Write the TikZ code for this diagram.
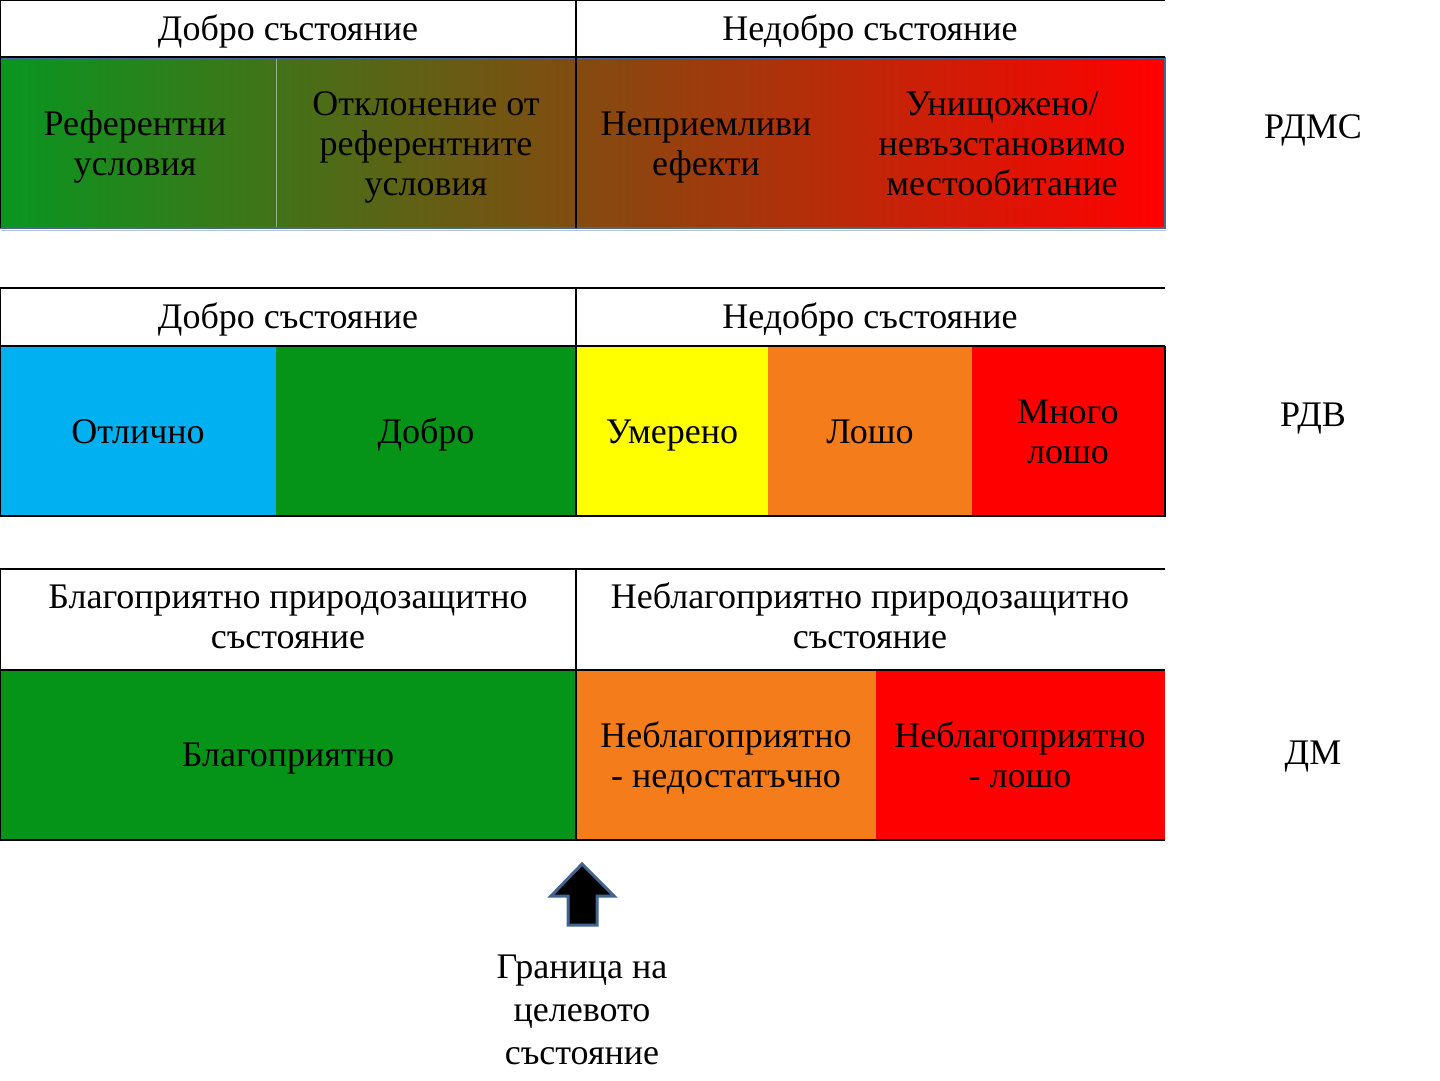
\documentclass[tikz,border=0pt]{standalone}
\usepackage{fontspec}
\setmainfont{Liberation Serif}
\definecolor{cblue}{HTML}{00B0F0}
\definecolor{cgreen}{HTML}{069418}
\definecolor{cyellow}{HTML}{FFFF00}
\definecolor{corange}{HTML}{F57C1A}
\definecolor{cred}{HTML}{FF0000}
\definecolor{gleft}{HTML}{089620}
\definecolor{barborder}{HTML}{46688F}
\definecolor{arrowborder}{HTML}{42648F}
\newcommand\ls{\rule[-0.22em]{0pt}{0.94em}}
\begin{document}
\begin{tikzpicture}[x=1pt,y=-1pt,
  txt/.style={align=center, inner sep=0pt, yshift=-2.5pt, font=\fontsize{36}{40}\selectfont},
  grid/.style={black, line width=1.5pt}]
\useasboundingbox (0,0) rectangle (1440,1080);
% ---------- table 1 ----------
\shade[left color=gleft, right color=cred] (0,58) rectangle (1165,228);
\draw[black!6, opacity=0.5, line width=0.6pt] (276,58) -- (276,228);
\draw[barborder, line width=2.5pt] (0,58) rectangle (1165,228);
\draw[barborder!40, line width=1.5pt] (1,230.5) -- (1166,230.5);
\draw[grid] (0,0) -- (1165,0);
\draw[grid] (0,0) -- (0,228);
\draw[grid] (576,0) -- (576,228);
\draw[grid] (0,57) -- (1165,57);
\node[txt] (h1a) at (288,29) {\ls Добро състояние};
\node[txt] (h1b) at (870,29) {\ls Недобро състояние};
\node[txt] (c1a) at (135,144) {\ls Референтни\\\ls условия};
\node[txt] (c1b) at (426,144) {\ls Отклонение от\\\ls референтните\\\ls условия};
\node[txt] (c1c) at (706,144) {\ls Неприемливи\\\ls ефекти};
\node[txt] (c1d) at (1002,144) {\ls Унищожено/\\\ls невъзстановимо\\\ls местообитание};
\node[txt] (l1) at (1313,127) {\ls РДМС};
% ---------- table 2 ----------
\fill[cblue] (0,346) rectangle (276,516);
\fill[cgreen] (276,346) rectangle (576,516);
\fill[cyellow] (576,346) rectangle (768,516);
\fill[corange] (768,346) rectangle (972,516);
\fill[cred] (972,346) rectangle (1165,516);
\draw[grid] (0,288) -- (1165,288);
\draw[grid] (0,288) -- (0,516) -- (1165,516) -- (1165,346);
\draw[grid] (0,346) -- (1165,346);
\draw[grid] (576,288) -- (576,516);
\node[txt] (h2a) at (288,317) {\ls Добро състояние};
\node[txt] (h2b) at (870,317) {\ls Недобро състояние};
\node[txt] (c2a) at (138,432) {\ls Отлично};
\node[txt] (c2b) at (426,432) {\ls Добро};
\node[txt] (c2c) at (672,432) {\ls Умерено};
\node[txt] (c2d) at (870,432) {\ls Лошо};
\node[txt] (c2e) at (1068,432) {\ls Много\\\ls лошо};
\node[txt] (l2) at (1313,415) {\ls РДВ};
% ---------- table 3 ----------
\fill[cgreen] (0,670) rectangle (576,840);
\fill[corange] (576,670) rectangle (876,840);
\fill[cred] (876,670) rectangle (1165,840);
\draw[grid] (0,569) -- (1165,569);
\draw[grid] (0,569) -- (0,840) -- (1165,840);
\draw[grid] (0,670) -- (1165,670);
\draw[grid] (576,569) -- (576,840);
\node[txt] (h3a) at (288,617) {\ls Благоприятно природозащитно\\\ls състояние};
\node[txt] (h3b) at (870,617) {\ls Неблагоприятно природозащитно\\\ls състояние};
\node[txt] (c3a) at (288,755) {\ls Благоприятно};
\node[txt] (c3b) at (726,756) {\ls Неблагоприятно\\\ls - недостатъчно};
\node[txt] (c3c) at (1020,756) {\ls Неблагоприятно\\\ls - лошо};
\node[txt] (l3) at (1313,753) {\ls ДМ};
% ---------- arrow ----------
\draw[arrowborder, line width=3pt, fill=black, line join=miter]
  (582,864) -- (614,896) -- (597,896) -- (597,925) -- (568,925) -- (568,896) -- (551,896) -- cycle;
\node[txt, font=\fontsize{36}{43}\selectfont] (bnd) at (582,1010) {\ls Граница на\\\ls целевото\\\ls състояние};
\end{tikzpicture}
\end{document}
